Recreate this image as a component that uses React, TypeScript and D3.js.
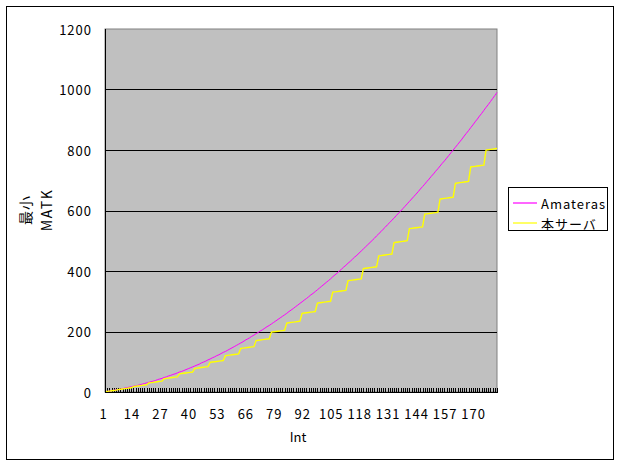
import React from "react";
import * as d3 from "d3";

const amateras: number[] = [
  1, 2, 3, 4, 6, 7, 8, 10, 11, 13,
  14, 16, 17, 19, 21, 22, 24, 26, 28, 30,
  32, 34, 36, 38, 41, 43, 45, 48, 50, 53,
  55, 58, 60, 63, 66, 68, 71, 74, 77, 80,
  83, 86, 89, 92, 96, 99, 102, 106, 109, 113,
  116, 120, 123, 127, 131, 134, 138, 142, 146, 150,
  154, 158, 162, 166, 171, 175, 179, 184, 188, 193,
  197, 202, 206, 211, 216, 220, 225, 230, 235, 240,
  245, 250, 255, 260, 266, 271, 276, 282, 287, 293,
  298, 304, 309, 315, 321, 326, 332, 338, 344, 350,
  356, 362, 368, 374, 381, 387, 393, 400, 406, 413,
  419, 426, 432, 439, 446, 452, 459, 466, 473, 480,
  487, 494, 501, 508, 516, 523, 530, 538, 545, 553,
  560, 568, 575, 583, 591, 598, 606, 614, 622, 630,
  638, 646, 654, 662, 671, 679, 687, 696, 704, 713,
  721, 730, 738, 747, 756, 764, 773, 782, 791, 800,
  809, 818, 827, 836, 846, 855, 864, 874, 883, 893,
  902, 912, 921, 931, 941, 950, 960, 970, 980, 990,
];

const honServer: number[] = [
  1, 2, 3, 4, 5, 6,
  8, 9, 10, 11, 12, 13, 14,
  18, 19, 20, 21, 22, 23, 24,
  30, 31, 32, 33, 34, 35, 36,
  44, 45, 46, 47, 48, 49, 50,
  60, 61, 62, 63, 64, 65, 66,
  78, 79, 80, 81, 82, 83, 84,
  98, 99, 100, 101, 102, 103, 104,
  120, 121, 122, 123, 124, 125, 126,
  144, 145, 146, 147, 148, 149, 150,
  170, 171, 172, 173, 174, 175, 176,
  198, 199, 200, 201, 202, 203, 204,
  228, 229, 230, 231, 232, 233, 234,
  260, 261, 262, 263, 264, 265, 266,
  294, 295, 296, 297, 298, 299, 300,
  330, 331, 332, 333, 334, 335, 336,
  368, 369, 370, 371, 372, 373, 374,
  408, 409, 410, 411, 412, 413, 414,
  450, 451, 452, 453, 454, 455, 456,
  494, 495, 496, 497, 498, 499, 500,
  540, 541, 542, 543, 544, 545, 546,
  588, 589, 590, 591, 592, 593, 594,
  638, 639, 640, 641, 642, 643, 644,
  690, 691, 692, 693, 694, 695, 696,
  744, 745, 746, 747, 748, 749, 750,
  800, 801, 802, 803, 804, 805,
];

const intCategories: number[] = amateras.map((_, i) => i + 1);
const xTickLabels: number[] = [1, 14, 27, 40, 53, 66, 79, 92, 105, 118, 131, 144, 157, 170];
const yTicks: number[] = [0, 200, 400, 600, 800, 1000, 1200];
const seriesNames: string[] = ["Amateras", "本サーバ"];
const seriesColors: string[] = ["#FF00FF", "#FFFF00"];

const FONT = "'Noto Sans CJK JP', 'Noto Sans', sans-serif";

export default function App() {
  const left = 105, right = 497, top = 29, bottom = 392;
  const x = d3.scalePoint<number>().domain(intCategories).range([left, right]);
  const y = d3.scaleLinear().domain([0, 1200]).range([bottom, top]);
  const line = d3
    .line<number>()
    .x((_, i) => x(intCategories[i]) as number)
    .y((d) => y(d));
  const series = [amateras, honServer];

  return (
    <svg
      width={620}
      height={465}
      style={{ position: "absolute", left: 0, top: 0, background: "#fff" }}
      fontFamily={FONT}
    >
      <rect x={6.5} y={6.5} width={607} height={453} fill="#fff" stroke="#000" strokeWidth={1} />
      {/* plot area */}
      <rect x={left} y={top} width={right - left} height={bottom - top} fill="#C0C0C0" stroke="#808080" strokeWidth={1} />
      {yTicks.filter((t) => t > 0 && t < 1200).map((t) => (
        <line key={"g" + t} x1={left} x2={right} y1={Math.round(y(t)) + 0.5} y2={Math.round(y(t)) + 0.5} stroke="#000" strokeWidth={1} />
      ))}
      {/* x category ticks */}
      {intCategories.map((c) => (
        <line key={"xt" + c} x1={Math.round(x(c) as number) + 0.5} x2={Math.round(x(c) as number) + 0.5} y1={bottom - 4} y2={bottom} stroke="#000" strokeWidth={1} />
      ))}
      {/* series */}
      {series.map((s, i) => (
        <path key={"s" + i} d={line(s) || ""} fill="none" stroke={seriesColors[i]} strokeWidth={i === 0 ? 1 : 1.4} />
      ))}
      {/* axes */}
      <line x1={left + 0.5} x2={left + 0.5} y1={top} y2={bottom + 1} stroke="#000" strokeWidth={1} />
      <line x1={left} x2={right + 1} y1={bottom + 0.5} y2={bottom + 0.5} stroke="#000" strokeWidth={1} />
      {yTicks.map((t) => (
        <text key={"yl" + t} x={92} y={y(t)} textAnchor="end" dominantBaseline="central" fontSize={13} letterSpacing={1} fill="#000">
          {t}
        </text>
      ))}
      {xTickLabels.map((c) => (
        <text key={"xl" + c} x={(x(c) as number) - 1.5} y={413} textAnchor="middle" dominantBaseline="central" fontSize={13} letterSpacing={1} fill="#000">
          {c}
        </text>
      ))}
      <text x={298} y={436} textAnchor="middle" dominantBaseline="central" fontSize={13} fill="#000">
        Int
      </text>
      <g transform="translate(25,210) rotate(-90)">
        <text x={0} y={0} textAnchor="middle" dominantBaseline="central" fontSize={14} letterSpacing={1} fill="#000">最小</text>
      </g>
      <g transform="translate(46,210) rotate(-90)">
        <text x={0} y={0} textAnchor="middle" dominantBaseline="central" fontSize={14} letterSpacing={1.5} fill="#000">MATK</text>
      </g>
      {/* legend */}
      <rect x={508.5} y={187.5} width={99} height={43} fill="#fff" stroke="#000" strokeWidth={1} />
      {seriesNames.map((n, i) => (
        <g key={"lg" + i}>
          <line x1={513} x2={537} y1={203 + i * 20} y2={203 + i * 20} stroke={seriesColors[i]} strokeWidth={1.2} />
          <text x={541} y={203 + i * 20} dominantBaseline="central" fontSize={13} letterSpacing={1} fill="#000">
            {n}
          </text>
        </g>
      ))}
    </svg>
  );
}
